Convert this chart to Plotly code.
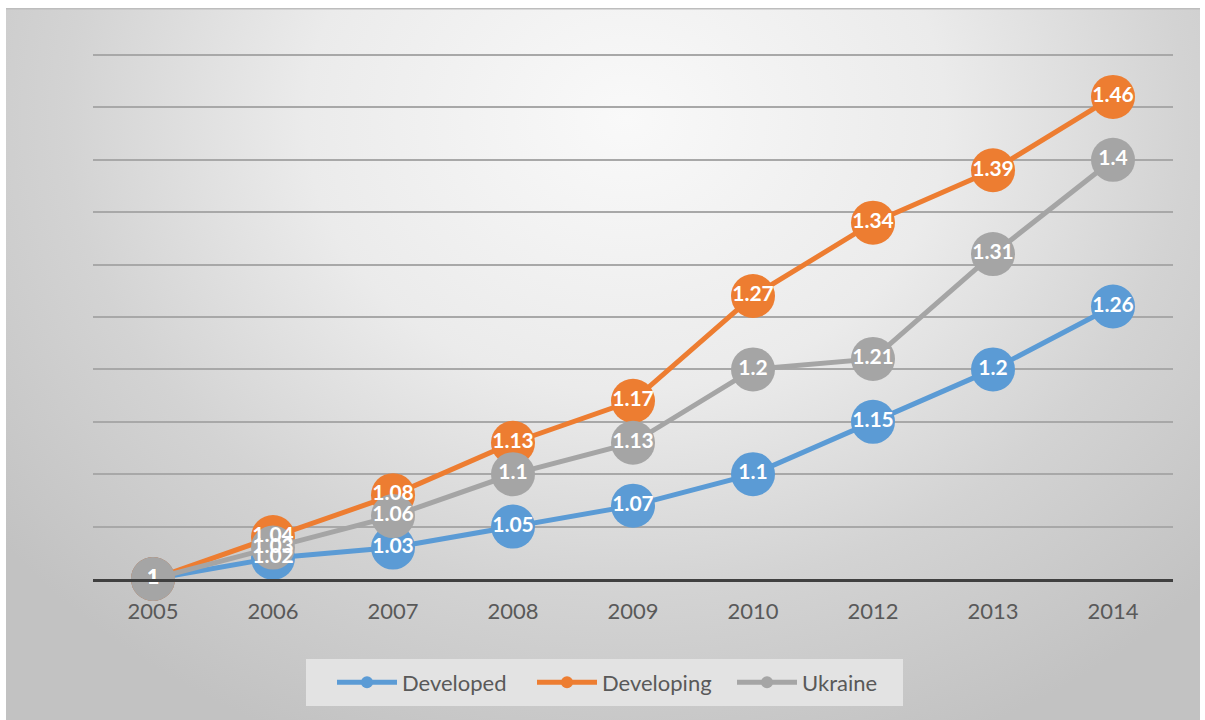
import base64
import plotly.graph_objects as go

# Index values relative to 2005 (2011 is not in the series)
years = ["2005", "2006", "2007", "2008", "2009", "2010", "2012", "2013", "2014"]
developed = [1, 1.02, 1.03, 1.05, 1.07, 1.1, 1.15, 1.2, 1.26]
developing = [1, 1.04, 1.08, 1.13, 1.17, 1.27, 1.34, 1.39, 1.46]
ukraine = [1, 1.03, 1.06, 1.1, 1.13, 1.2, 1.21, 1.31, 1.4]

series_names = ["Developed", "Developing", "Ukraine"]
series_values = [developed, developing, ukraine]
series_colors = ["#5B9BD5", "#ED7D31", "#A5A5A5"]

# Geometry of the figure (pixels)
W, H = 1205, 720
L, R, T, B = 93, 32, 50, 141
plot_w = W - L - R
plot_h = H - T - B
px_per_unit = 1048.0          # vertical pixels per index unit
y_top = 1 + plot_h / px_per_unit


def px_to_paper_x(px):
    return (px - L) / plot_w


def px_to_paper_y(py):
    return (H - B - py) / plot_h


# Chart-area background: soft radial grey gradient as an inline SVG
area_x0, area_y0, area_x1, area_y1 = 6, 8, 1200, 720
aw, ah = area_x1 - area_x0, area_y1 - area_y0
svg = (
    f"<svg xmlns='http://www.w3.org/2000/svg' width='{aw}' height='{ah}'>"
    "<defs><radialGradient id='g' gradientUnits='userSpaceOnUse' "
    f"cx='620' cy='110' r='800' gradientTransform='translate(620 110) scale(1 0.85) translate(-620 -110)'>"
    "<stop offset='0' stop-color='#f9f9f9'/>"
    "<stop offset='0.4' stop-color='#ebebeb'/>"
    "<stop offset='0.7' stop-color='#d3d3d3'/>"
    "<stop offset='1' stop-color='#c2c2c2'/>"
    "</radialGradient></defs>"
    f"<rect x='0' y='0' width='{aw}' height='{ah}' fill='url(#g)'/>"
    f"<line x1='0' y1='0.5' x2='{aw}' y2='0.5' stroke='#bdbdbd' stroke-width='2'/>"
    "</svg>"
)
bg_src = "data:image/svg+xml;base64," + base64.b64encode(svg.encode()).decode()

fig = go.Figure()

# Lines with large circular markers
for name, vals, col in zip(series_names, series_values, series_colors):
    fig.add_trace(go.Scatter(
        x=years, y=vals, name=name, mode="lines+markers",
        line=dict(color=col, width=5),
        marker=dict(color=col, size=44, line=dict(width=0)),
        cliponaxis=False, hoverinfo="skip",
    ))

# Value labels drawn above every marker
for vals in series_values:
    fig.add_trace(go.Scatter(
        x=years, y=vals, mode="text", text=[f"{v:g}" for v in vals],
        textposition="middle center",
        textfont=dict(family="Lato", size=21, color="white", weight="bold"),
        showlegend=False, cliponaxis=False, hoverinfo="skip",
    ))

# Legend panel and the centre of its entries
legend_box = dict(x0=306, x1=903, y0=659, y1=706)
legend_center_x = 632

fig.update_layout(
    width=W, height=H,
    margin=dict(l=L, r=R, t=T, b=B),
    paper_bgcolor="white",
    plot_bgcolor="rgba(0,0,0,0)",
    font=dict(family="Lato", color="#595959"),
    images=[dict(
        source=bg_src, xref="paper", yref="paper",
        x=px_to_paper_x(area_x0), y=px_to_paper_y(area_y0),
        sizex=aw / plot_w, sizey=ah / plot_h,
        xanchor="left", yanchor="top", sizing="stretch", layer="below",
    )],
    shapes=[dict(
        type="rect", xref="paper", yref="paper", layer="below",
        x0=px_to_paper_x(legend_box["x0"]), x1=px_to_paper_x(legend_box["x1"]),
        y0=px_to_paper_y(legend_box["y1"]), y1=px_to_paper_y(legend_box["y0"]),
        fillcolor="#e3e3e3", line=dict(width=0),
    )],
    xaxis=dict(
        type="category", range=[-0.5, len(years) - 0.5],
        showgrid=False, showline=True, linecolor="#404040", linewidth=3,
        ticks="", tickfont=dict(size=22, color="#595959"),
        ticklabelstandoff=11,
        zeroline=False, fixedrange=True,
    ),
    yaxis=dict(
        range=[1, y_top], dtick=0.05, tick0=1,
        showticklabels=False, ticks="", showline=False, zeroline=False,
        gridcolor="#a8a8a8", gridwidth=2, fixedrange=True,
    ),
    legend=dict(
        orientation="h",
        x=px_to_paper_x(legend_center_x), xanchor="center",
        y=px_to_paper_y((legend_box["y0"] + legend_box["y1"]) / 2), yanchor="middle",
        bgcolor="rgba(0,0,0,0)", font=dict(size=22, color="#595959"),
        itemsizing="constant", itemwidth=60,
        entrywidth=125, entrywidthmode="pixels",
    ),
    showlegend=True,
)

fig.write_html("out.html")
